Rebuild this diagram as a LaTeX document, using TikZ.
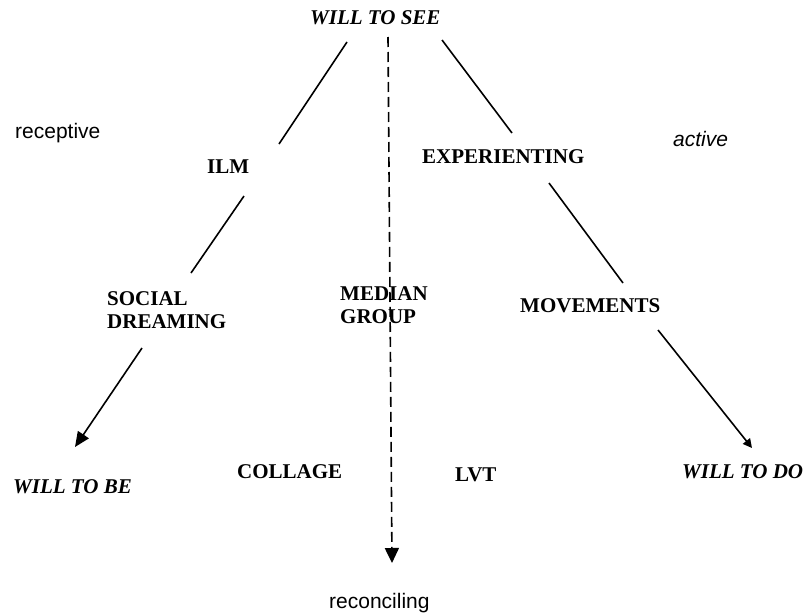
\documentclass[tikz,border=0pt]{standalone}
\usepackage{fontspec}
\setmainfont{Liberation Serif}
\newfontfamily\sansf{Liberation Sans}
\usetikzlibrary{arrows.meta}
\begin{document}
\begin{tikzpicture}[x=1pt,y=-1pt,
  lbl/.style={anchor=base west,inner sep=0pt,font=\fontsize{21}{23}\selectfont\bfseries},
  will/.style={anchor=base west,inner sep=0pt,font=\fontsize{21}{23}\selectfont\bfseries\itshape},
  side/.style={anchor=base west,inner sep=0pt,font=\fontsize{21}{23}\selectfont\sansf},
  ln/.style={line width=1.6pt},
  arr/.style={line width=1.6pt,-{Triangle[length=15pt,width=13pt]}},
  arrs/.style={line width=1.6pt,-{Triangle[length=9pt,width=9pt]}},
  dsh/.style={line width=1.6pt,dash pattern=on 10pt off 5pt,-{Triangle[length=15pt,width=14pt]}}]
\useasboundingbox (0,0) rectangle (807,616);
% labels
\node[will] (see) at (310,24) {WILL TO SEE};
\node[side] (rec) at (15,138) {receptive};
\node[side,font=\fontsize{21}{23}\selectfont\sansf\itshape] (act) at (673,146) {active};
\node[lbl] (ilm) at (207,173) {ILM};
\node[lbl] (exp) at (422,163) {EXPERIENTING};
\node[lbl] (soc) at (107,305) {\begin{tabular}[t]{@{}l@{}}SOCIAL\\DREAMING\end{tabular}};
\node[lbl] (med) at (340,300) {\begin{tabular}[t]{@{}l@{}}MEDIAN\\GROUP\end{tabular}};
\node[lbl] (mov) at (520,312) {MOVEMENTS};
\node[will] (be) at (13,493) {WILL TO BE};
\node[lbl] (col) at (237,478) {COLLAGE};
\node[lbl] (lvt) at (455,481) {LVT};
\node[will] (do) at (682,478) {WILL TO DO};
\node[side] (recon) at (329,608) {reconciling};
% connector end points
\coordinate (a1) at (347,42);  \coordinate (a2) at (279,144);
\coordinate (b1) at (244,196); \coordinate (b2) at (191,273);
\coordinate (c1) at (142,348); \coordinate (c2) at (75,447);
\coordinate (d1) at (442,40);  \coordinate (d2) at (512,133);
\coordinate (e1) at (549,183); \coordinate (e2) at (623,283);
\coordinate (f1) at (658,330); \coordinate (f2) at (752,448);
\coordinate (g1) at (388,37);  \coordinate (g2) at (392,563);
% connectors
\draw[ln] (a1) -- (a2);
\draw[ln] (b1) -- (b2);
\draw[arr] (c1) -- (c2);
\draw[ln] (d1) -- (d2);
\draw[ln] (e1) -- (e2);
\draw[arrs] (f1) -- (f2);
\draw[dsh] (g1) -- (g2);
\end{tikzpicture}
\end{document}
